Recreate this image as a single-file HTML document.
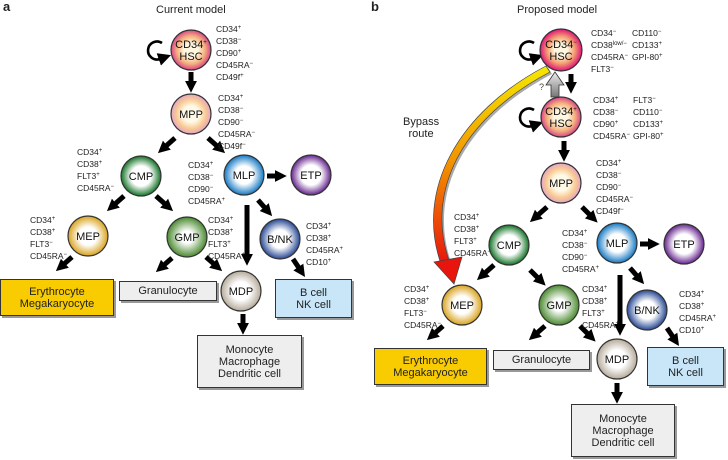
<!DOCTYPE html>
<html><head><meta charset="utf-8"><style>
body{margin:0;background:#fff;}
#c{position:relative;width:728px;height:460px;overflow:hidden;font-family:"Liberation Sans",sans-serif;color:#222;}
svg{position:absolute;left:0;top:0;}
.m{position:absolute;font-size:8.5px;line-height:10px;white-space:nowrap;color:#222;}
.m s{text-decoration:none;font-size:6px;position:relative;top:-3px;}
.bx{position:absolute;box-sizing:border-box;border:1px solid #333;box-shadow:2px 2px 0 #999;font-size:11px;line-height:12px;text-align:center;display:flex;align-items:center;justify-content:center;}
.t{position:absolute;font-size:12px;}
</style></head><body><div id="c">
<svg width="728" height="460" viewBox="0 0 728 460">
<defs>
<marker id="ah" viewBox="0 0 10 10" markerWidth="2.4" markerHeight="2.6" refX="1" refY="5" orient="auto"><path d="M0,0L10,5L0,10z" fill="#000"/></marker>
<marker id="sh" viewBox="0 0 10 10" markerWidth="5" markerHeight="5" refX="1" refY="5" orient="auto"><path d="M0,0L10,5L0,10z" fill="#000"/></marker>
<radialGradient id="hsc"><stop offset="0.35" stop-color="#fff6e0"/><stop offset="0.7" stop-color="#f4b07a"/><stop offset="1" stop-color="#d8458c"/></radialGradient>
<radialGradient id="hscn"><stop offset="0.3" stop-color="#fff6e0"/><stop offset="0.65" stop-color="#f3a070"/><stop offset="1" stop-color="#e0127a"/></radialGradient>
<radialGradient id="mpp"><stop offset="0.4" stop-color="#fffae8"/><stop offset="0.75" stop-color="#f8c890"/><stop offset="1" stop-color="#e4a4cc"/></radialGradient>
<radialGradient id="cmp"><stop offset="0.5" stop-color="#fff"/><stop offset="1" stop-color="#137426"/></radialGradient>
<radialGradient id="gmp"><stop offset="0.3" stop-color="#fff"/><stop offset="1" stop-color="#4a8a30"/></radialGradient>
<radialGradient id="mlp"><stop offset="0.45" stop-color="#fff"/><stop offset="1" stop-color="#1479c4"/></radialGradient>
<radialGradient id="etp"><stop offset="0.5" stop-color="#fff"/><stop offset="1" stop-color="#66248e"/></radialGradient>
<radialGradient id="mep"><stop offset="0.45" stop-color="#fff"/><stop offset="1" stop-color="#d9a21c"/></radialGradient>
<radialGradient id="bnk"><stop offset="0.45" stop-color="#fff"/><stop offset="1" stop-color="#274894"/></radialGradient>
<radialGradient id="mdp"><stop offset="0.45" stop-color="#fff"/><stop offset="1" stop-color="#b5aa9a"/></radialGradient>
<linearGradient id="byp" x1="0" y1="0" x2="0" y2="1"><stop offset="0" stop-color="#f5e800"/><stop offset="0.5" stop-color="#f29000"/><stop offset="1" stop-color="#e8140e"/></linearGradient>
<linearGradient id="gray" x1="0" y1="0" x2="0" y2="1"><stop offset="0" stop-color="#eee"/><stop offset="1" stop-color="#777"/></linearGradient>
</defs>
<g stroke="#000" stroke-width="5" marker-end="url(#ah)">
<line x1="191" y1="72" x2="191" y2="82"/>
<line x1="175" y1="138" x2="166" y2="146"/>
<line x1="208" y1="138" x2="217" y2="146"/>
<line x1="267" y1="176" x2="276" y2="176"/>
<line x1="124" y1="196" x2="115" y2="204"/>
<line x1="156" y1="196" x2="165" y2="204"/>
<line x1="258" y1="200" x2="265" y2="208"/>
<line x1="247" y1="205" x2="247" y2="255"/>
<line x1="72" y1="257" x2="64" y2="264"/>
<line x1="172" y1="258" x2="164" y2="265"/>
<line x1="206" y1="257" x2="214" y2="264"/>
<line x1="293" y1="259" x2="299" y2="268"/>
<line x1="243" y1="314" x2="243" y2="324"/>
<line x1="571" y1="74" x2="571" y2="83"/>
<line x1="564" y1="141" x2="564" y2="151"/>
<line x1="547" y1="207" x2="538" y2="215"/>
<line x1="582" y1="207" x2="590" y2="215"/>
<line x1="640" y1="244" x2="649" y2="244"/>
<line x1="494" y1="265" x2="485" y2="273"/>
<line x1="530" y1="270" x2="538" y2="278"/>
<line x1="630" y1="268" x2="637" y2="276"/>
<line x1="620" y1="275" x2="620" y2="325"/>
<line x1="443" y1="326" x2="435" y2="333"/>
<line x1="545" y1="326" x2="537" y2="333"/>
<line x1="580" y1="326" x2="588" y2="334"/>
<line x1="667" y1="328" x2="673" y2="337"/>
<line x1="617" y1="383" x2="617" y2="393"/>
</g>
<path d="M551,97 L551,85 L546,85 L555,72 L564,85 L559,85 L559,97z" fill="url(#gray)" stroke="#333" stroke-width="0.8"/>
<text x="539" y="90" font-size="9" fill="#444" font-family="Liberation Sans">?</text>
<g fill="none" stroke="#000" stroke-width="2.6">
<path d="M162,43 A9,9 0 1 0 160,59" marker-end="url(#sh)"/>
<path d="M534,43 A9,9 0 1 0 532,59" marker-end="url(#sh)"/>
<path d="M534,110 A9,9 0 1 0 532,126" marker-end="url(#sh)"/>
</g>
<path d="M546,66 C458,112 415,190 441,264 L450,263 C424,192 462,118 550,72z" fill="#aaa" transform="translate(2,2)"/>
<path d="M546,66 C458,112 415,190 441,264 L450,263 C424,192 462,118 550,72z" fill="url(#byp)" stroke="#444" stroke-width="0.7"/>
<path d="M434,262 L462,257 L454,284z" fill="#e8140e" stroke="#444" stroke-width="0.7"/>
<g stroke="#333" stroke-width="1.2">
<circle cx="191" cy="50" r="20" fill="url(#hsc)"/>
<circle cx="191" cy="114" r="20" fill="url(#mpp)"/>
<circle cx="141" cy="176" r="20" fill="url(#cmp)"/>
<circle cx="244" cy="175" r="20" fill="url(#mlp)"/>
<circle cx="311" cy="175" r="20" fill="url(#etp)"/>
<circle cx="88" cy="236" r="20" fill="url(#mep)"/>
<circle cx="187" cy="237" r="20" fill="url(#gmp)"/>
<circle cx="280" cy="239" r="20" fill="url(#bnk)"/>
<circle cx="241" cy="291" r="20" fill="url(#mdp)"/>
<circle cx="561" cy="50" r="21" fill="url(#hscn)"/>
<circle cx="561" cy="117" r="20" fill="url(#hsc)"/>
<circle cx="561" cy="183" r="20" fill="url(#mpp)"/>
<circle cx="509" cy="245" r="20" fill="url(#cmp)"/>
<circle cx="617" cy="243" r="20" fill="url(#mlp)"/>
<circle cx="684" cy="244" r="20" fill="url(#etp)"/>
<circle cx="462" cy="305" r="20" fill="url(#mep)"/>
<circle cx="559" cy="305" r="20" fill="url(#gmp)"/>
<circle cx="647" cy="310" r="20" fill="url(#bnk)"/>
<circle cx="617" cy="359" r="20" fill="url(#mdp)"/>
</g>
<g font-family="Liberation Sans" font-size="11" text-anchor="middle" fill="#111">
<text x="191" y="48">CD34<tspan font-size="6" dy="-4">+</tspan></text><text x="191" y="60">HSC</text>
<text x="191" y="118">MPP</text>
<text x="141" y="180">CMP</text>
<text x="244" y="179">MLP</text>
<text x="311" y="179">ETP</text>
<text x="88" y="240">MEP</text>
<text x="187" y="241">GMP</text>
<text x="280" y="243">B/NK</text>
<text x="241" y="295">MDP</text>
<text x="561" y="48">CD34<tspan font-size="6" dy="-4">−</tspan></text><text x="561" y="60">HSC</text>
<text x="561" y="115">CD34<tspan font-size="6" dy="-4">+</tspan></text><text x="561" y="127">HSC</text>
<text x="561" y="187">MPP</text>
<text x="509" y="249">CMP</text>
<text x="617" y="247">MLP</text>
<text x="684" y="248">ETP</text>
<text x="462" y="309">MEP</text>
<text x="559" y="309">GMP</text>
<text x="647" y="314">B/NK</text>
<text x="617" y="363">MDP</text>
</g>
</svg>
<div class="t" style="left:3px;top:-1px;font-weight:bold;font-size:13px">a</div>
<div class="t" style="left:156px;top:4px;font-size:11px">Current model</div>
<div class="t" style="left:371px;top:-1px;font-weight:bold;font-size:13px">b</div>
<div class="t" style="left:517px;top:4px;font-size:11px">Proposed model</div>
<div class="t" style="left:403px;top:116px;font-size:11px;line-height:12px;text-align:center">Bypass<br>route</div>

<div class="m" style="left:216px;top:24px">CD34<s>+</s><br>CD38<s>−</s><br>CD90<s>+</s><br>CD45RA<s>−</s><br>CD49f<s>+</s></div>
<div class="m" style="left:218px;top:93px">CD34<s>+</s><br>CD38<s>−</s><br>CD90<s>−</s><br>CD45RA<s>−</s><br>CD49f<s>−</s></div>
<div class="m" style="left:77px;top:147px">CD34<s>+</s><br>CD38<s>+</s><br>FLT3<s>+</s><br>CD45RA<s>−</s></div>
<div class="m" style="left:188px;top:160px">CD34<s>+</s><br>CD38<s>−</s><br>CD90<s>−</s><br>CD45RA<s>+</s></div>
<div class="m" style="left:30px;top:215px">CD34<s>+</s><br>CD38<s>+</s><br>FLT3<s>−</s><br>CD45RA<s>−</s></div>
<div class="m" style="left:208px;top:215px">CD34<s>+</s><br>CD38<s>+</s><br>FLT3<s>+</s><br>CD45RA<s>+</s></div>
<div class="m" style="left:306px;top:221px">CD34<s>+</s><br>CD38<s>+</s><br>CD45RA<s>+</s><br>CD10<s>+</s></div>

<div class="m" style="left:591px;top:28px">CD34<s>−</s><br>CD38<s>low/−</s><br>CD45RA<s>−</s><br>FLT3<s>−</s></div>
<div class="m" style="left:632px;top:28px">CD110<s>−</s><br>CD133<s>+</s><br>GPI-80<s>+</s></div>
<div class="m" style="left:593px;top:95px">CD34<s>+</s><br>CD38<s>−</s><br>CD90<s>+</s><br>CD45RA<s>−</s></div>
<div class="m" style="left:633px;top:95px">FLT3<s>−</s><br>CD110<s>−</s><br>CD133<s>+</s><br>GPI-80<s>+</s></div>
<div class="m" style="left:596px;top:158px">CD34<s>+</s><br>CD38<s>−</s><br>CD90<s>−</s><br>CD45RA<s>−</s><br>CD49f<s>−</s></div>
<div class="m" style="left:454px;top:212px">CD34<s>+</s><br>CD38<s>+</s><br>FLT3<s>+</s><br>CD45RA<s>−</s></div>
<div class="m" style="left:562px;top:228px">CD34<s>+</s><br>CD38<s>−</s><br>CD90<s>−</s><br>CD45RA<s>+</s></div>
<div class="m" style="left:404px;top:284px">CD34<s>+</s><br>CD38<s>+</s><br>FLT3<s>−</s><br>CD45RA<s>−</s></div>
<div class="m" style="left:582px;top:284px">CD34<s>+</s><br>CD38<s>+</s><br>FLT3<s>+</s><br>CD45RA<s>+</s></div>
<div class="m" style="left:679px;top:289px">CD34<s>+</s><br>CD38<s>+</s><br>CD45RA<s>+</s><br>CD10<s>+</s></div>

<div class="bx" style="left:0;top:279px;width:114px;height:37px;background:#f8cc00">Erythrocyte<br>Megakaryocyte</div>
<div class="bx" style="left:119px;top:281px;width:98px;height:20px;background:#eee">Granulocyte</div>
<div class="bx" style="left:275px;top:279px;width:77px;height:39px;background:#c8e6f8">B cell<br>NK cell</div>
<div class="bx" style="left:197px;top:335px;width:105px;height:53px;background:#eee">Monocyte<br>Macrophage<br>Dendritic cell</div>
<div class="bx" style="left:374px;top:348px;width:113px;height:37px;background:#f8cc00">Erythrocyte<br>Megakaryocyte</div>
<div class="bx" style="left:493px;top:350px;width:97px;height:20px;background:#eee">Granulocyte</div>
<div class="bx" style="left:647px;top:347px;width:77px;height:39px;background:#c8e6f8">B cell<br>NK cell</div>
<div class="bx" style="left:571px;top:404px;width:104px;height:53px;background:#eee">Monocyte<br>Macrophage<br>Dendritic cell</div>
</div></body></html>
